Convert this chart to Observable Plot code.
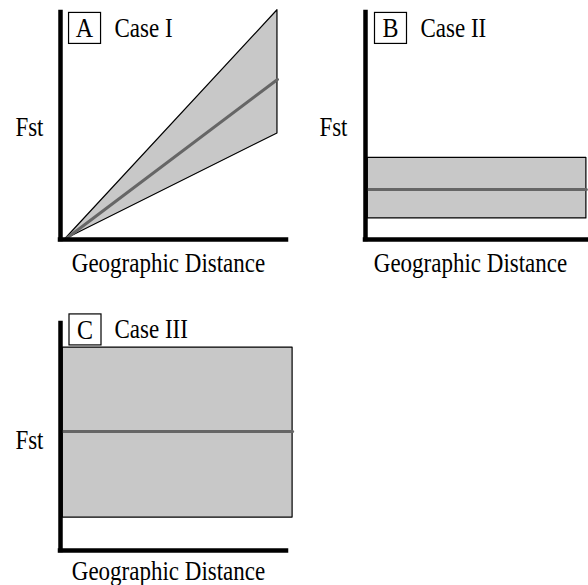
<!DOCTYPE html>
<html><head><meta charset="utf-8">
<script src="https://cdn.jsdelivr.net/npm/d3@7"></script>
<script src="https://cdn.jsdelivr.net/npm/@observablehq/plot@0.6"></script>
<style>
body{margin:0;background:#fff;}
#chart{position:relative;width:588px;height:585px;overflow:hidden;}
#chart svg{position:absolute;overflow:visible;}
</style></head><body><div id="chart"></div>
<script>
// ---- data ----
const panelLetters = ["A", "B", "C"];
const panelCases = ["Case I", "Case II", "Case III"];
const xLabel = "Geographic Distance";
const yLabel = "Fst";

const distA = [0.02, 0.96];
const lowerA = [0, 0.467];
const medianA = [0, 0.705];
const upperA = [0, 1.01];

const distB = [0.01, 0.995];
const lowerB = [0.093, 0.093];
const medianB = [0.22, 0.22];
const upperB = [0.36, 0.36];

const distC = [0.01, 1.027];
const lowerC = [0.145, 0.145];
const medianC = [0.524, 0.524];
const upperC = [0.894, 0.894];

// ---- layout ----
const layouts = [
  {left: 0, top: 0, width: 294, height: 290, mL: 60, mR: 8, mT: 12, mB: 51,
   fstDx: -17, fstDy: 1, xlDx: -5, xlDy: 24, boxDx: 24, boxDy: 15.5, caseDx: 54},
  {left: 294, top: 0, width: 294, height: 290, mL: 71, mR: 1, mT: 12, mB: 51,
   fstDx: -18, fstDy: 1, xlDx: -6, xlDy: 24, boxDx: 25, boxDy: 15.5, caseDx: 55},
  {left: 0, top: 290, width: 294, height: 295, mL: 60, mR: 8, mT: 33, mB: 35,
   fstDx: -17, fstDy: 3, xlDx: -5, xlDy: 20.5, boxDx: 24.5, boxDy: 6, caseDx: 54}
];

const series = [
  [distA, lowerA, medianA, upperA],
  [distB, lowerB, medianB, upperB],
  [distC, lowerC, medianC, upperC]
];

const font = "'Liberation Serif', 'Times New Roman', serif";
const fs = 23;            // width-determining size
const stretch = 27 / 23;  // the reference glyphs are vertically stretched
const container = document.getElementById("chart");

series.forEach(([dist, lower, median, upper], i) => {
  const L = layouts[i];
  const rows = dist.map((d, j) => ({x: d, lo: lower[j], md: median[j], hi: upper[j]}));
  const svg = Plot.plot({
    width: L.width, height: L.height,
    marginLeft: L.mL, marginRight: L.mR, marginTop: L.mT, marginBottom: L.mB,
    x: {domain: [0, 1], axis: null},
    y: {domain: [0, 1], axis: null},
    style: {fontFamily: font, fontSize: fs + "px", background: "transparent", color: "#000"},
    marks: [
      Plot.areaY(rows, {x: "x", y1: "lo", y2: "hi", fill: "#c8c8c8", fillOpacity: 1, stroke: "#000", strokeWidth: 1.2}),
      Plot.lineY(rows, {x: "x", y: "md", stroke: "#666666", strokeWidth: 3}),
      Plot.ruleX([0], {stroke: "#000", strokeWidth: 4.5, strokeLinecap: "square"}),
      Plot.ruleY([0], {stroke: "#000", strokeWidth: 4.5, strokeLinecap: "square"}),
      Plot.text([yLabel], {text: d => d, frameAnchor: "left", textAnchor: "end", lineAnchor: "middle", dx: L.fstDx, dy: L.fstDy, fontSize: fs, fill: "#000"}),
      Plot.text([xLabel], {text: d => d, frameAnchor: "bottom", textAnchor: "middle", lineAnchor: "middle", dx: L.xlDx, dy: L.xlDy, fontSize: fs, fill: "#000"}),
      Plot.text([panelLetters[i]], {text: d => d, frameAnchor: "top-left", textAnchor: "middle", lineAnchor: "middle", dx: L.boxDx, dy: L.boxDy, fontSize: fs + 1, fill: "#000"}),
      Plot.text([panelCases[i]], {text: d => d, frameAnchor: "top-left", textAnchor: "start", lineAnchor: "middle", dx: L.caseDx, dy: L.boxDy, fontSize: fs, fill: "#000"})
    ]
  });
  svg.style.left = L.left + "px";
  svg.style.top = L.top + "px";
  container.appendChild(svg);
  // stretch each label vertically about its own centre, as in the reference
  d3.select(svg).selectAll("text").each(function() {
    const b = this.getBBox();
    const cx = b.x + b.width / 2, cy = b.y + b.height / 2;
    const t = this.getAttribute("transform") || "";
    this.setAttribute("transform", `${t} translate(${cx},${cy}) scale(1,${stretch}) translate(${-cx},${-cy})`);
  });
  // draw the box around the panel letter
  const sr = svg.getBoundingClientRect();
  d3.select(svg).selectAll("text").each(function() {
    if (this.textContent === panelLetters[i]) {
      const b = this.getBoundingClientRect();
      const cx = b.left - sr.left + b.width / 2;
      const cy = b.top - sr.top + b.height / 2;
      d3.select(svg).append("rect")
        .attr("x", cx - 16).attr("y", cy - 15.5)
        .attr("width", 32).attr("height", 31)
        .attr("fill", "none").attr("stroke", "#000").attr("stroke-width", 1.2);
    }
  });
});
</script></body></html>
